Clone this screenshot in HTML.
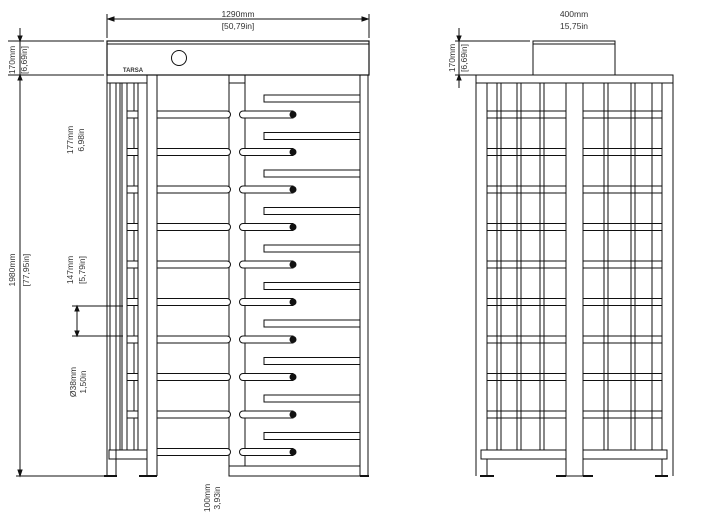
<!DOCTYPE html><html><head><style>body{margin:0;background:#fff}svg{display:block}text{font-family:"Liberation Sans",sans-serif;fill:#333;font-size:8.5px}</style></head><body>
<svg width="712" height="532" viewBox="0 0 712 532" xmlns="http://www.w3.org/2000/svg" stroke="#111" fill="none" stroke-width="1">
<!-- top dims left -->
<line x1="107" y1="14" x2="107" y2="38"/><line x1="369" y1="14" x2="369" y2="38"/>
<line x1="108" y1="19" x2="368" y2="19"/>
<path d="M108 19l6-2v4zM368 19l-6-2v4z" fill="#111"/>
<text x="238" y="17" text-anchor="middle" stroke="none">1290mm</text>
<text x="238" y="29" text-anchor="middle" stroke="none">[50,79in]</text>
<line x1="20" y1="28" x2="20" y2="476"/>
<line x1="8" y1="41" x2="104" y2="41"/><line x1="8" y1="75" x2="104" y2="75"/>
<line x1="16" y1="476" x2="104" y2="476"/>
<path d="M20 41l-2-5h4zM20 75l-2 5h4zM20 476l-2-6h4z" fill="#111"/>
<text transform="translate(15,60) rotate(-90)" text-anchor="middle" stroke="none">170mm</text>
<text transform="translate(27,60) rotate(-90)" text-anchor="middle" stroke="none">[6,69in]</text>
<text transform="translate(15,270) rotate(-90)" text-anchor="middle" stroke="none">1980mm</text>
<text transform="translate(29,270) rotate(-90)" text-anchor="middle" stroke="none">[77,95in]</text>
<text transform="translate(73,140) rotate(-90)" text-anchor="middle" stroke="none">177mm</text>
<text transform="translate(84,140) rotate(-90)" text-anchor="middle" stroke="none">6,98in</text>
<text transform="translate(73,270) rotate(-90)" text-anchor="middle" stroke="none">147mm</text>
<text transform="translate(85,270) rotate(-90)" text-anchor="middle" stroke="none">[5,79in]</text>
<text transform="translate(76,382) rotate(-90)" text-anchor="middle" stroke="none">Ø38mm</text>
<text transform="translate(86,382) rotate(-90)" text-anchor="middle" stroke="none">1,50in</text>
<text transform="translate(210,498) rotate(-90)" text-anchor="middle" stroke="none">100mm</text>
<text transform="translate(220,498) rotate(-90)" text-anchor="middle" stroke="none">3,93in</text>
<line x1="72" y1="306" x2="123" y2="306"/><line x1="72" y1="336" x2="123" y2="336"/>
<line x1="77" y1="306" x2="77" y2="336"/>
<path d="M77 306l-2 5h4zM77 336l-2-5h4z" fill="#111"/>
<!-- left view box -->
<rect x="107" y="41" width="262" height="34" stroke-width="1.2"/>
<line x1="107" y1="44" x2="369" y2="44"/>
<circle cx="179" cy="58" r="7.5"/>
<text x="133" y="72" text-anchor="middle" stroke="none" style="font-size:6px;font-weight:bold">TARSA</text>
<rect x="107" y="75" width="40" height="8"/>
<rect x="229" y="75" width="16" height="8"/>
<g id="lp">
<line x1="107" y1="83" x2="107" y2="476"/><line x1="110" y1="83" x2="110" y2="450"/><line x1="116" y1="83" x2="116" y2="476"/>
<line x1="120" y1="83" x2="120" y2="450"/><line x1="122" y1="83" x2="122" y2="450"/><line x1="127" y1="83" x2="127" y2="450"/>
<line x1="134" y1="83" x2="134" y2="450"/><line x1="138" y1="83" x2="138" y2="450"/><line x1="147" y1="83" x2="147" y2="476"/><line x1="157" y1="75" x2="157" y2="476"/>
</g>
<rect x="109" y="450" width="38" height="9"/>
<line x1="229" y1="83" x2="229" y2="466"/><line x1="245" y1="83" x2="245" y2="466"/>
<line x1="360" y1="75" x2="360" y2="466"/><line x1="368" y1="75" x2="368" y2="476"/>
<rect x="229" y="466" width="131" height="10"/>
<line x1="104" y1="476" x2="117" y2="476" stroke-width="2"/><line x1="139" y1="476" x2="157" y2="476" stroke-width="2"/><line x1="360" y1="476" x2="369" y2="476" stroke-width="2"/>
<g fill="#fff">
<path d="M157 111h70a3.5 3.5 0 0 1 0 7h-70zM243 111h50v7h-50a3.5 3.5 0 0 1 0-7zM264 95h96v7h-96z"/>
<path d="M157 148.5h70a3.5 3.5 0 0 1 0 7h-70zM243 148.5h50v7h-50a3.5 3.5 0 0 1 0-7zM264 132.5h96v7h-96z"/>
<path d="M157 186h70a3.5 3.5 0 0 1 0 7h-70zM243 186h50v7h-50a3.5 3.5 0 0 1 0-7zM264 170h96v7h-96z"/>
<path d="M157 223.5h70a3.5 3.5 0 0 1 0 7h-70zM243 223.5h50v7h-50a3.5 3.5 0 0 1 0-7zM264 207.5h96v7h-96z"/>
<path d="M157 261h70a3.5 3.5 0 0 1 0 7h-70zM243 261h50v7h-50a3.5 3.5 0 0 1 0-7zM264 245h96v7h-96z"/>
<path d="M157 298.5h70a3.5 3.5 0 0 1 0 7h-70zM243 298.5h50v7h-50a3.5 3.5 0 0 1 0-7zM264 282.5h96v7h-96z"/>
<path d="M157 336h70a3.5 3.5 0 0 1 0 7h-70zM243 336h50v7h-50a3.5 3.5 0 0 1 0-7zM264 320h96v7h-96z"/>
<path d="M157 373.5h70a3.5 3.5 0 0 1 0 7h-70zM243 373.5h50v7h-50a3.5 3.5 0 0 1 0-7zM264 357.5h96v7h-96z"/>
<path d="M157 411h70a3.5 3.5 0 0 1 0 7h-70zM243 411h50v7h-50a3.5 3.5 0 0 1 0-7zM264 395h96v7h-96z"/>
<path d="M157 448.5h70a3.5 3.5 0 0 1 0 7h-70zM243 448.5h50v7h-50a3.5 3.5 0 0 1 0-7zM264 432.5h96v7h-96z"/>
</g>
<g fill="#111" stroke="none">
<circle cx="293" cy="114.5" r="3.5"/><circle cx="293" cy="152" r="3.5"/><circle cx="293" cy="189.5" r="3.5"/><circle cx="293" cy="227" r="3.5"/><circle cx="293" cy="264.5" r="3.5"/><circle cx="293" cy="302" r="3.5"/><circle cx="293" cy="339.5" r="3.5"/><circle cx="293" cy="377" r="3.5"/><circle cx="293" cy="414.5" r="3.5"/><circle cx="293" cy="452" r="3.5"/>
</g>
<g fill="#fff">
<rect x="127" y="111" width="11" height="7"/><rect x="127" y="148.5" width="11" height="7"/><rect x="127" y="186" width="11" height="7"/><rect x="127" y="223.5" width="11" height="7"/><rect x="127" y="261" width="11" height="7"/><rect x="127" y="298.5" width="11" height="7"/><rect x="127" y="336" width="11" height="7"/><rect x="127" y="373.5" width="11" height="7"/><rect x="127" y="411" width="11" height="7"/>
</g>
<!-- right view -->
<text x="574" y="17" text-anchor="middle" stroke="none">400mm</text>
<text x="574" y="29" text-anchor="middle" stroke="none">15,75in</text>
<line x1="459" y1="28" x2="459" y2="88"/>
<line x1="455" y1="41" x2="530" y2="41"/><line x1="455" y1="75" x2="476" y2="75"/>
<path d="M459 41l-2-5h4zM459 75l-2 5h4z" fill="#111"/>
<text transform="translate(455,58) rotate(-90)" text-anchor="middle" stroke="none">170mm</text>
<text transform="translate(467,58) rotate(-90)" text-anchor="middle" stroke="none">[6,69in]</text>
<rect x="533" y="41" width="82" height="34"/><line x1="533" y1="44" x2="615" y2="44"/>
<rect x="476" y="75" width="197" height="8"/>
<g>
<line x1="476" y1="83" x2="476" y2="476"/><line x1="487" y1="83" x2="487" y2="476"/>
<line x1="497" y1="83" x2="497" y2="450"/><line x1="501" y1="83" x2="501" y2="450"/>
<line x1="517" y1="83" x2="517" y2="450"/><line x1="521" y1="83" x2="521" y2="450"/>
<line x1="540" y1="83" x2="540" y2="450"/><line x1="544" y1="83" x2="544" y2="450"/>
<line x1="566" y1="83" x2="566" y2="476"/><line x1="583" y1="83" x2="583" y2="476"/>
<line x1="604" y1="83" x2="604" y2="450"/><line x1="608" y1="83" x2="608" y2="450"/>
<line x1="631" y1="83" x2="631" y2="450"/><line x1="635" y1="83" x2="635" y2="450"/>
<line x1="652" y1="83" x2="652" y2="450"/><line x1="662" y1="83" x2="662" y2="476"/>
<line x1="673" y1="83" x2="673" y2="476"/>
<line x1="566" y1="476" x2="583" y2="476"/>
</g>
<g>
<path d="M487 111h79M487 118h79M583 111h79M583 118h79"/>
<path d="M487 148.5h79M487 155.5h79M583 148.5h79M583 155.5h79"/>
<path d="M487 186h79M487 193h79M583 186h79M583 193h79"/>
<path d="M487 223.5h79M487 230.5h79M583 223.5h79M583 230.5h79"/>
<path d="M487 261h79M487 268h79M583 261h79M583 268h79"/>
<path d="M487 298.5h79M487 305.5h79M583 298.5h79M583 305.5h79"/>
<path d="M487 336h79M487 343h79M583 336h79M583 343h79"/>
<path d="M487 373.5h79M487 380.5h79M583 373.5h79M583 380.5h79"/>
<path d="M487 411h79M487 418h79M583 411h79M583 418h79"/>
</g>
<rect x="481" y="450" width="85" height="9" fill="#fff"/><rect x="583" y="450" width="84" height="9" fill="#fff"/>
<line x1="487" y1="459" x2="487" y2="476"/><line x1="662" y1="459" x2="662" y2="476"/>
<g stroke-width="2"><line x1="480" y1="476" x2="494" y2="476"/><line x1="556" y1="476" x2="566" y2="476"/><line x1="583" y1="476" x2="593" y2="476"/><line x1="655" y1="476" x2="668" y2="476"/></g>
</svg></body></html>
